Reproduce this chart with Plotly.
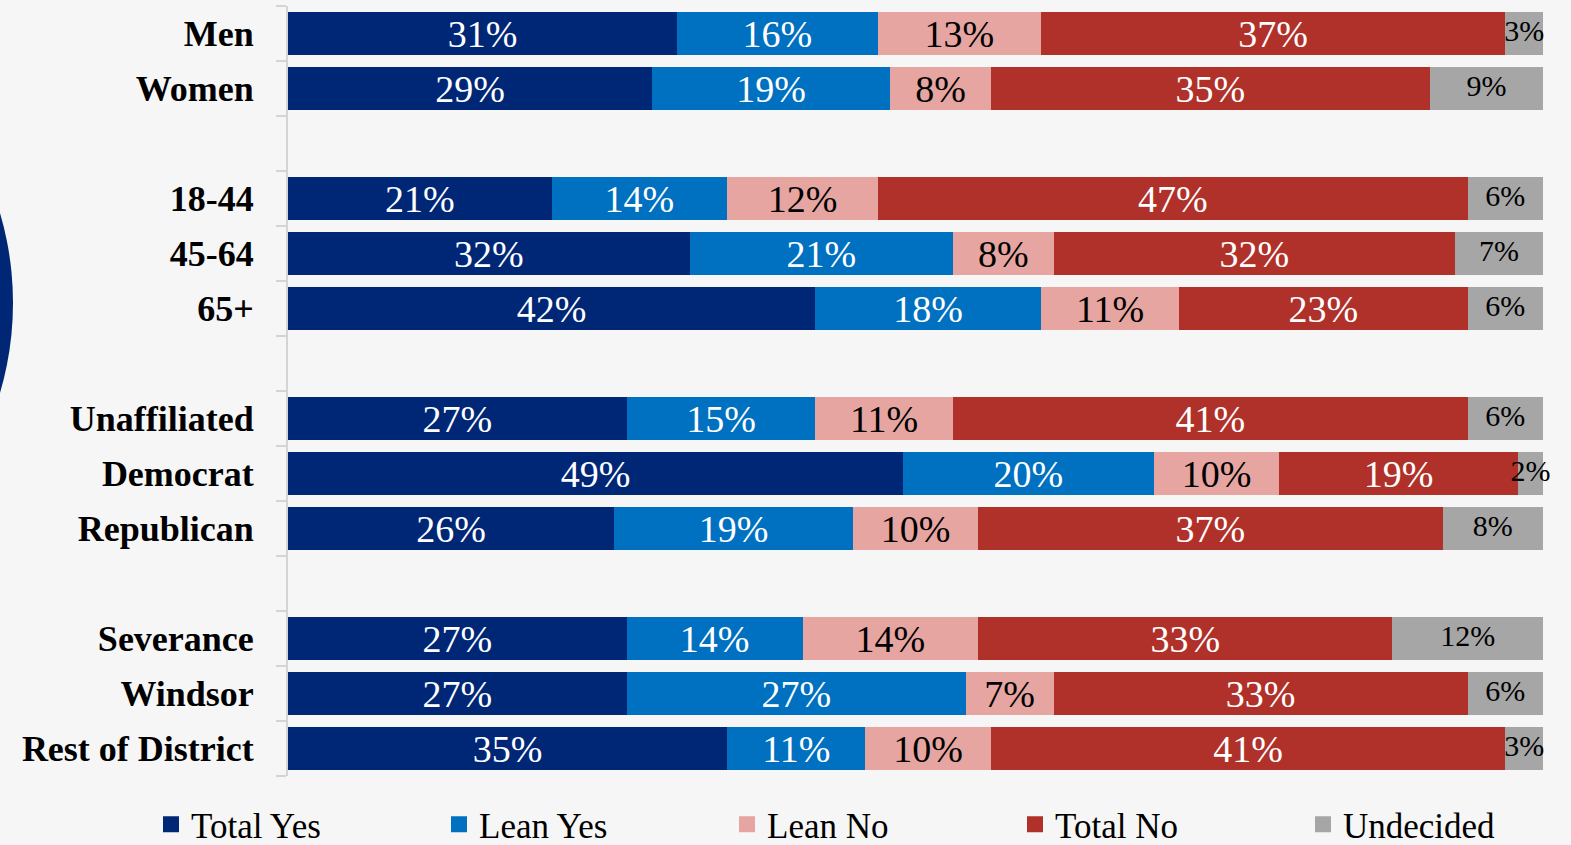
import plotly.graph_objects as go

categories = ["Men", "Women", "", "18-44", "45-64", "65+", "", "Unaffiliated", "Democrat",
              "Republican", "", "Severance", "Windsor", "Rest of District"]
total_yes = [31, 29, None, 21, 32, 42, None, 27, 49, 26, None, 27, 27, 35]
lean_yes = [16, 19, None, 14, 21, 18, None, 15, 20, 19, None, 14, 27, 11]
lean_no = [13, 8, None, 12, 8, 11, None, 11, 10, 10, None, 14, 7, 10]
total_no = [37, 35, None, 47, 32, 23, None, 41, 19, 37, None, 33, 33, 41]
undecided = [3, 9, None, 6, 7, 6, None, 6, 2, 8, None, 12, 6, 3]

series_names = ["Total Yes", "Lean Yes", "Lean No", "Total No", "Undecided"]
series_values = [total_yes, lean_yes, lean_no, total_no, undecided]
colors = ["#002776", "#0070c0", "#e6a5a0", "#b0312a", "#a6a6a6"]
text_colors = ["white", "white", "black", "white", "black"]

FONT = "Liberation Serif"
rows = list(range(len(categories)))

fig = go.Figure()
for name, vals, col, tcol in zip(series_names, series_values, colors, text_colors):
    is_und = name == "Undecided"
    fig.add_trace(go.Bar(
        name=name, orientation="h", y=rows, x=vals,
        marker=dict(color=col, line=dict(width=0)),
        width=0.77,
        text=[f"{v}%" if v is not None else "" for v in vals],
        textposition="none" if is_und else "inside",
        insidetextanchor="middle",
        constraintext="none",
        textfont=dict(family=FONT, size=38, color=tcol),
        hoverinfo="skip", showlegend=False,
    ))

# Undecided labels drawn as text (they overflow small segments)
und_x, und_y, und_t = [], [], []
for i, v in enumerate(undecided):
    if v is None:
        continue
    s = sum(sv[i] for sv in series_values[:-1])
    und_x.append(s + v / 2)
    und_y.append(i)
    und_t.append(f"{v}%")
fig.add_trace(go.Scatter(x=und_x, y=und_y, text=und_t, mode="text",
                         textfont=dict(family=FONT, size=30, color="black"),
                         showlegend=False, hoverinfo="skip", cliponaxis=False))

# legend entries with larger square swatches
for name, col in zip(series_names, colors):
    fig.add_trace(go.Scatter(x=[None], y=[None], mode="markers", name=name,
                             marker=dict(symbol="square", size=16, color=col),
                             showlegend=True, hoverinfo="skip"))

label_rows = [i for i, c in enumerate(categories) if c]
label_text = [c for c in categories if c]

W, H = 1571, 845
ml, mr, mt, mb = 288, 28, 6, 69
pw = W - ml - mr
ph = H - mt - mb

# decorative circle on the left edge
R = 318
cx_px, cy_px = 13 - R, 303
fig.add_shape(type="circle", xref="paper", yref="paper",
              x0=(cx_px - R - ml) / pw, x1=(cx_px + R - ml) / pw,
              y0=(H - mb - (cy_px + R)) / ph, y1=(H - mb - (cy_px - R)) / ph,
              fillcolor="#002776", line=dict(width=0), layer="below")

fig.update_layout(
    width=W, height=H,
    barmode="stack",
    margin=dict(l=ml, r=mr, t=mt, b=mb, autoexpand=False),
    paper_bgcolor="#f6f6f6", plot_bgcolor="#f6f6f6",
    font=dict(family=FONT, color="black"),
    xaxis=dict(range=[0, 100], visible=False, fixedrange=True),
    yaxis=dict(range=[13.5, -0.5], tickmode="array", tickvals=label_rows, ticktext=label_text,
               ticks="", showgrid=False, zeroline=False, fixedrange=True,
               showline=True, linecolor="#d4d4d4", linewidth=2,
               tickfont=dict(family=FONT, size=36, color="black", weight="bold"),
               ticklabelstandoff=25,
               minor=dict(tickmode="linear", tick0=0.5, dtick=1, ticks="outside",
                          ticklen=10, tickwidth=2, tickcolor="#d4d4d4", showgrid=False)),
    legend=dict(orientation="h", x=(151 - ml) / pw, xanchor="left",
                y=(H - mb - 795) / ph, yanchor="top",
                entrywidth=243, entrywidthmode="pixels",
                font=dict(family=FONT, size=35, color="black"),
                bgcolor="rgba(0,0,0,0)", traceorder="normal", itemsizing="trace"),
    showlegend=True,
)

fig.write_html("out.html", config={"displayModeBar": False},
               post_script="document.body.style.margin='0';")
